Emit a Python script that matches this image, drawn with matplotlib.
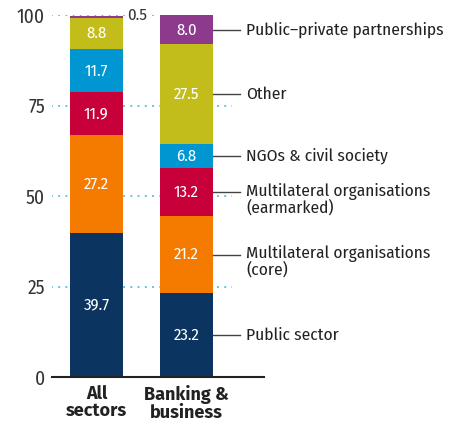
import matplotlib
matplotlib.use("Agg")
import matplotlib.pyplot as plt
import numpy as np

plt.rcParams["font.family"] = ["Fira Sans Condensed", "DejaVu Sans"]

# ---------------------------------------------------------------------------
# Data
# ---------------------------------------------------------------------------
categories = ["All\nsectors", "Banking &\nbusiness"]
segments = [
    "Public sector",
    "Multilateral organisations\n(core)",
    "Multilateral organisations\n(earmarked)",
    "NGOs & civil society",
    "Other",
    "Public\u2013private partnerships",
]
all_sectors = [39.7, 27.2, 11.9, 11.7, 8.8, 0.5]
banking = [23.2, 21.2, 13.2, 6.8, 27.5, 8.0]
colors = ["#0b3560", "#f47a00", "#c8003a", "#0096d2", "#c3bd1c", "#8e3a8c"]
yticks = [0, 25, 50, 75, 100]

# ---------------------------------------------------------------------------
# Figure
# ---------------------------------------------------------------------------
fig = plt.figure(figsize=(4.5, 4.23), dpi=100)
ax = fig.add_axes([52 / 450, 1 - 377 / 423, 212 / 450, 362 / 423])

x = np.arange(len(categories))
width = 0.59
grid_c = "#4fb9e0"

# dotted guides behind the bars
ax.hlines([25, 50, 75], -0.5, 1.505, colors=grid_c, linestyles=(0, (1, 3)),
          linewidth=1.3, zorder=0)
ax.hlines([100], -0.5, 0.7, colors=grid_c, linestyles=(0, (1, 3)),
          linewidth=1.3, zorder=0)

for i, vals in enumerate([all_sectors, banking]):
    bottom = 0.0
    for j, v in enumerate(vals):
        ax.bar(x[i], v, width, bottom=bottom, color=colors[j], zorder=2,
               clip_on=False, linewidth=0)
        if v >= 2:
            ax.text(x[i], bottom + v / 2, f"{v:.1f}", ha="center", va="center",
                    color="white", fontsize=12, zorder=3)
        elif i == 0:
            ax.text(x[i] + width / 2 + 0.04, bottom + v, f"{v:.1f}", ha="left",
                    va="center", color="#333333", fontsize=12, zorder=3,
                    bbox=dict(facecolor="white", edgecolor="none", pad=0.5))
        if i == 1:
            mid = bottom + v / 2
            ax.plot([x[i] + width / 2, x[i] + width / 2 + 0.3], [mid, mid],
                    color="#444444", linewidth=1, clip_on=False, zorder=3)
            two = "\n" in segments[j]
            ax.text(x[i] + width / 2 + 0.37, mid + (2.6 if two else 0),
                    segments[j], ha="left", va="top" if two else "center",
                    color="#222222", fontsize=12.5, linespacing=0.95,
                    clip_on=False)
        bottom += v

ax.set_xlim(-0.494, 1.861)
ax.set_ylim(0, 100)
ax.set_xticks(x)
ax.set_xticklabels(categories, fontsize=13, fontweight="bold", color="#222222",
                   linespacing=0.95, family=["Fira Sans", "DejaVu Sans"])
ax.set_yticks(yticks)
ax.set_yticklabels([str(t) for t in yticks], fontsize=14, color="#333333")
ax.tick_params(axis="both", length=0, pad=5)
ax.tick_params(axis="x", pad=6)

for side in ["top", "right", "left"]:
    ax.spines[side].set_visible(False)
ax.spines["bottom"].set_linewidth(1.5)
ax.spines["bottom"].set_color("#222222")
ax.spines["bottom"].set_zorder(4)

fig.savefig("out.png", dpi=100, facecolor="white")
plt.close(fig)
